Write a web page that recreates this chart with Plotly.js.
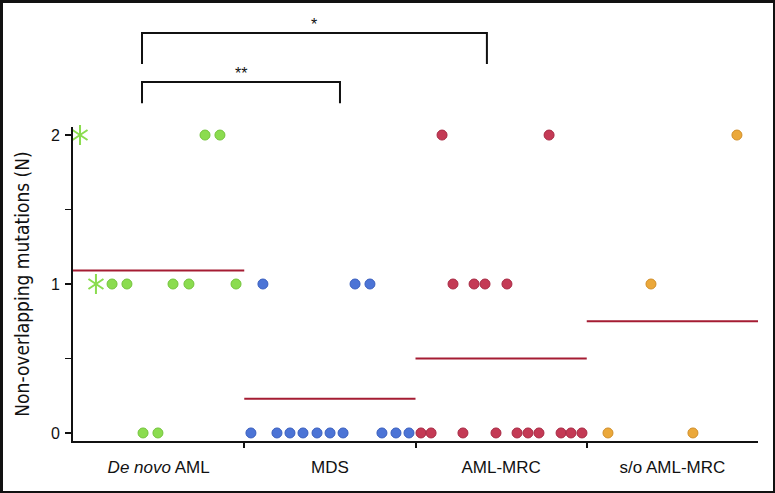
<!DOCTYPE html>
<html>
<head>
<meta charset="utf-8">
<script src="https://cdn.plot.ly/plotly-3.0.1.min.js"></script>
<style>
html,body{margin:0;padding:0;background:#fff;}
#wrap{position:relative;width:775px;height:493px;}
#chart{position:absolute;left:0;top:0;width:775px;height:493px;}
#frame{position:absolute;left:0;top:0;width:775px;height:493px;box-sizing:border-box;border-left:3px solid #111;border-top:3px solid #111;border-right:2px solid #111;border-bottom:2px solid #111;pointer-events:none;}
</style>
</head>
<body>
<div id="wrap"><div id="chart"></div><div id="frame"></div></div>
<script>
// Categories
const categories = ["<i>De novo</i> AML", "MDS", "AML-MRC", "s/o AML-MRC"];
const groupColors = ["#8bdc4f", "#4c74d6", "#c43a55", "#eba83a"];
const groupEdge = ["#74c43c", "#3a5fbf", "#a82a44", "#d18f2a"];

// Points (x position within category band, y value)
const denovoX = [0.771, 0.858, 0.228, 0.315, 0.584, 0.677, 0.952, 0.409, 0.496];
const denovoY = [2, 2, 1, 1, 1, 1, 1, 0, 0];
// Asterisk-marked De novo cases
const denovoStarX = [0.041, 0.134];
const denovoStarY = [2, 1];

const mdsX = [1.109, 1.647, 1.734, 1.039, 1.191, 1.267, 1.343, 1.425, 1.501, 1.577, 1.804, 1.886, 1.962];
const mdsY = [1, 1, 1, 0, 0, 0, 0, 0, 0, 0, 0, 0, 0];

const mrcX = [2.155, 2.780, 2.219, 2.342, 2.406, 2.534, 2.032, 2.091, 2.277, 2.470, 2.593, 2.657, 2.721, 2.850, 2.908, 2.972];
const mrcY = [2, 2, 1, 1, 1, 1, 0, 0, 0, 0, 0, 0, 0, 0, 0, 0];

const soX = [3.877, 3.375, 3.124, 3.620];
const soY = [2, 1, 0, 0];

// Group means (red lines)
const means = [1.09, 0.23, 0.5, 0.75];

// Significance brackets: [from, to, label]
const brackets = [
  {from: 0.403, to: 2.417, label: "*"},
  {from: 0.403, to: 1.559, label: "**"}
];

const groupsX = [denovoX, mdsX, mrcX, soX];
const groupsY = [denovoY, mdsY, mrcY, soY];

const traces = [];
means.forEach((m, i) => {
  traces.push({
    x: [i, i + 1], y: [m, m], mode: "lines", type: "scatter",
    line: {color: "#a51c33", width: 2}, hoverinfo: "skip", showlegend: false
  });
});
groupsX.forEach((gx, i) => {
  traces.push({
    x: gx, y: groupsY[i], mode: "markers", type: "scatter", showlegend: false,
    marker: {size: 10, color: groupColors[i], line: {color: groupEdge[i], width: 1}},
    cliponaxis: false
  });
});
["y-up-open", "y-down-open"].forEach(sym => {
  traces.push({
    x: denovoStarX, y: denovoStarY, mode: "markers", type: "scatter", showlegend: false,
    marker: {symbol: sym, size: 12.5, color: groupColors[0], line: {color: groupColors[0], width: 2}},
    cliponaxis: false
  });
});
// invisible trace on xaxis2 so that the boundary ticks are drawn
traces.push({x: [0, 4], y: [0, 0], xaxis: "x2", mode: "markers", marker: {opacity: 0}, hoverinfo: "skip", showlegend: false});

const shapes = [];
const annotations = [];
const bTops = [1.299, 1.143];
const bEnds = [1.201, 1.076];
brackets.forEach((b, k) => {
  shapes.push({
    type: "path", xref: "x", yref: "paper",
    path: `M${b.from},${bEnds[k]} L${b.from},${bTops[k]} L${b.to},${bTops[k]} L${b.to},${bEnds[k]}`,
    line: {color: "#111", width: 2}
  });
  annotations.push({
    x: (b.from + b.to) / 2 , y: bTops[k], xref: "x", yref: "paper",
    text: b.label, showarrow: false, yanchor: "bottom", yshift: -2,
    font: {family: "Liberation Sans, Arial, sans-serif", size: 16, color: "#111"}
  });
});

const layout = {
  width: 775, height: 493,
  margin: {l: 73, r: 17, t: 127, b: 52},
  paper_bgcolor: "#fff", plot_bgcolor: "#fff",
  font: {family: "Liberation Sans, Arial, sans-serif", size: 14, color: "#111"},
  xaxis: {
    range: [0, 4], tickvals: [0.5, 1.5, 2.5, 3.5], ticktext: categories,
    ticks: "", showgrid: false, zeroline: false, showline: true,
    linecolor: "#111", linewidth: 2, fixedrange: true, ticklabelstandoff: 10,
    tickfont: {family: "Liberation Sans, Arial, sans-serif", size: 17, color: "#111"}
  },
  xaxis2: {
    range: [0, 4], overlaying: "x", side: "bottom", tickvals: [1, 2, 3],
    ticks: "outside", ticklen: 6, tickwidth: 2, tickcolor: "#111",
    showticklabels: false, showgrid: false, zeroline: false, showline: false
  },
  yaxis: {
    range: [-0.054, 2.054], tickvals: [0, 0.5, 1, 1.5, 2], ticktext: ["0", "", "1", "", "2"],
    ticks: "outside", ticklen: 6, tickwidth: 1.5, tickcolor: "#111",
    showgrid: false, zeroline: false, showline: true, linecolor: "#111", linewidth: 2,
    ticklabelstandoff: 2,
    tickfont: {family: "Liberation Sans, Arial, sans-serif", size: 16, color: "#111"},
    title: {text: "Non-overlapping mutations (N)", standoff: 16,
      font: {family: "Liberation Sans Narrow, DejaVu Sans Condensed, Arial Narrow, sans-serif", size: 19, stretch: "condensed", color: "#111"}}
  },
  shapes: shapes,
  annotations: annotations,
  showlegend: false
};

Plotly.newPlot("chart", traces, layout, {displayModeBar: false, staticPlot: true});
</script>
</body>
</html>
